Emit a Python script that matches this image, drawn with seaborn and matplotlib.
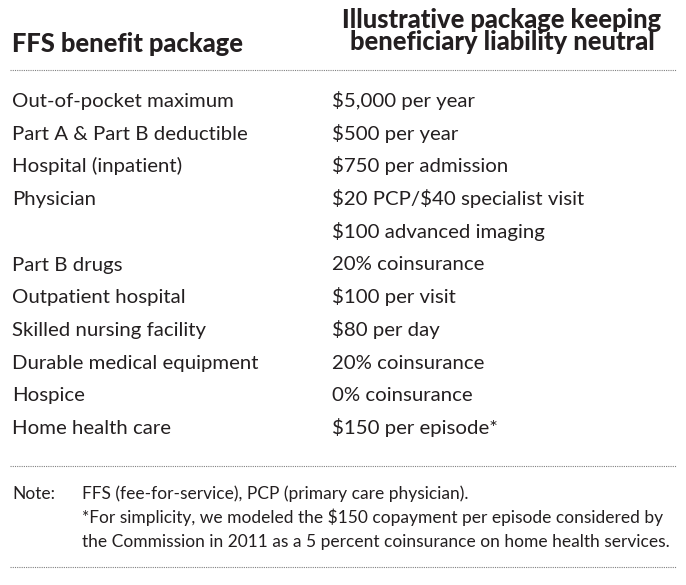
import matplotlib
matplotlib.use('Agg')
import matplotlib.pyplot as plt
import seaborn as sns

#table content
header_left = 'FFS benefit package'
header_right = ['Illustrative package keeping', 'beneficiary liability neutral']

features = ['Out-of-pocket maximum', 'Part A & Part B deductible', 'Hospital (inpatient)',
            'Physician', '', 'Part B drugs', 'Outpatient hospital',
            'Skilled nursing facility', 'Durable medical equipment', 'Hospice',
            'Home health care']
packages = ['$5,000 per year', '$500 per year', '$750 per admission',
            '$20 PCP/$40 specialist visit', '$100 advanced imaging',
            '20% coinsurance', '$100 per visit', '$80 per day',
            '20% coinsurance', '0% coinsurance', '$150 per episode*']

note_label = 'Note:'
note_lines = ['FFS (fee-for-service), PCP (primary care physician).',
              '*For simplicity, we modeled the $150 copayment per episode considered by',
              'the Commission in 2011 as a 5 percent coinsurance on home health services.']

sns.set_theme(style='white')
plt.rcParams['font.family'] = ['Lato', 'DejaVu Sans']
plt.rcParams['text.parse_math'] = False

ink = '#231f20'

fig = plt.figure(figsize=(6.86, 5.85), dpi=100)
ax = fig.add_axes([0, 0, 1, 1])
ax.set_xlim(0, 686)
ax.set_ylim(585, 0)
ax.axis('off')

# headers
ax.text(12, 52, header_left, fontsize=18.4, fontweight='black', va='baseline', ha='left', color=ink)
ax.text(502, 28, header_right[0], fontsize=18.4, fontweight='black', va='baseline', ha='center', color=ink)
ax.text(502, 50, header_right[1], fontsize=18.4, fontweight='black', va='baseline', ha='center', color=ink)

# dotted rules
for y in [70, 466, 567]:
    ax.hlines(y, 10, 676, colors='#808080', linestyles=(0, (1, 1)), linewidth=0.8)

# rows
for i, (f, p) in enumerate(zip(features, packages)):
    y = 107 + 32.7 * i
    ax.text(12, y, f, fontsize=14.7, va='baseline', ha='left', color=ink)
    ax.text(332, y, p, fontsize=14.7, va='baseline', ha='left', color=ink)

# note
ax.text(12, 499, note_label, fontsize=12.5, va='baseline', ha='left', color=ink)
for i, line in enumerate(note_lines):
    ax.text(82, 499 + 24 * i, line, fontsize=12.5, va='baseline', ha='left', color=ink)

fig.savefig('out.png', dpi=100, facecolor='white')
